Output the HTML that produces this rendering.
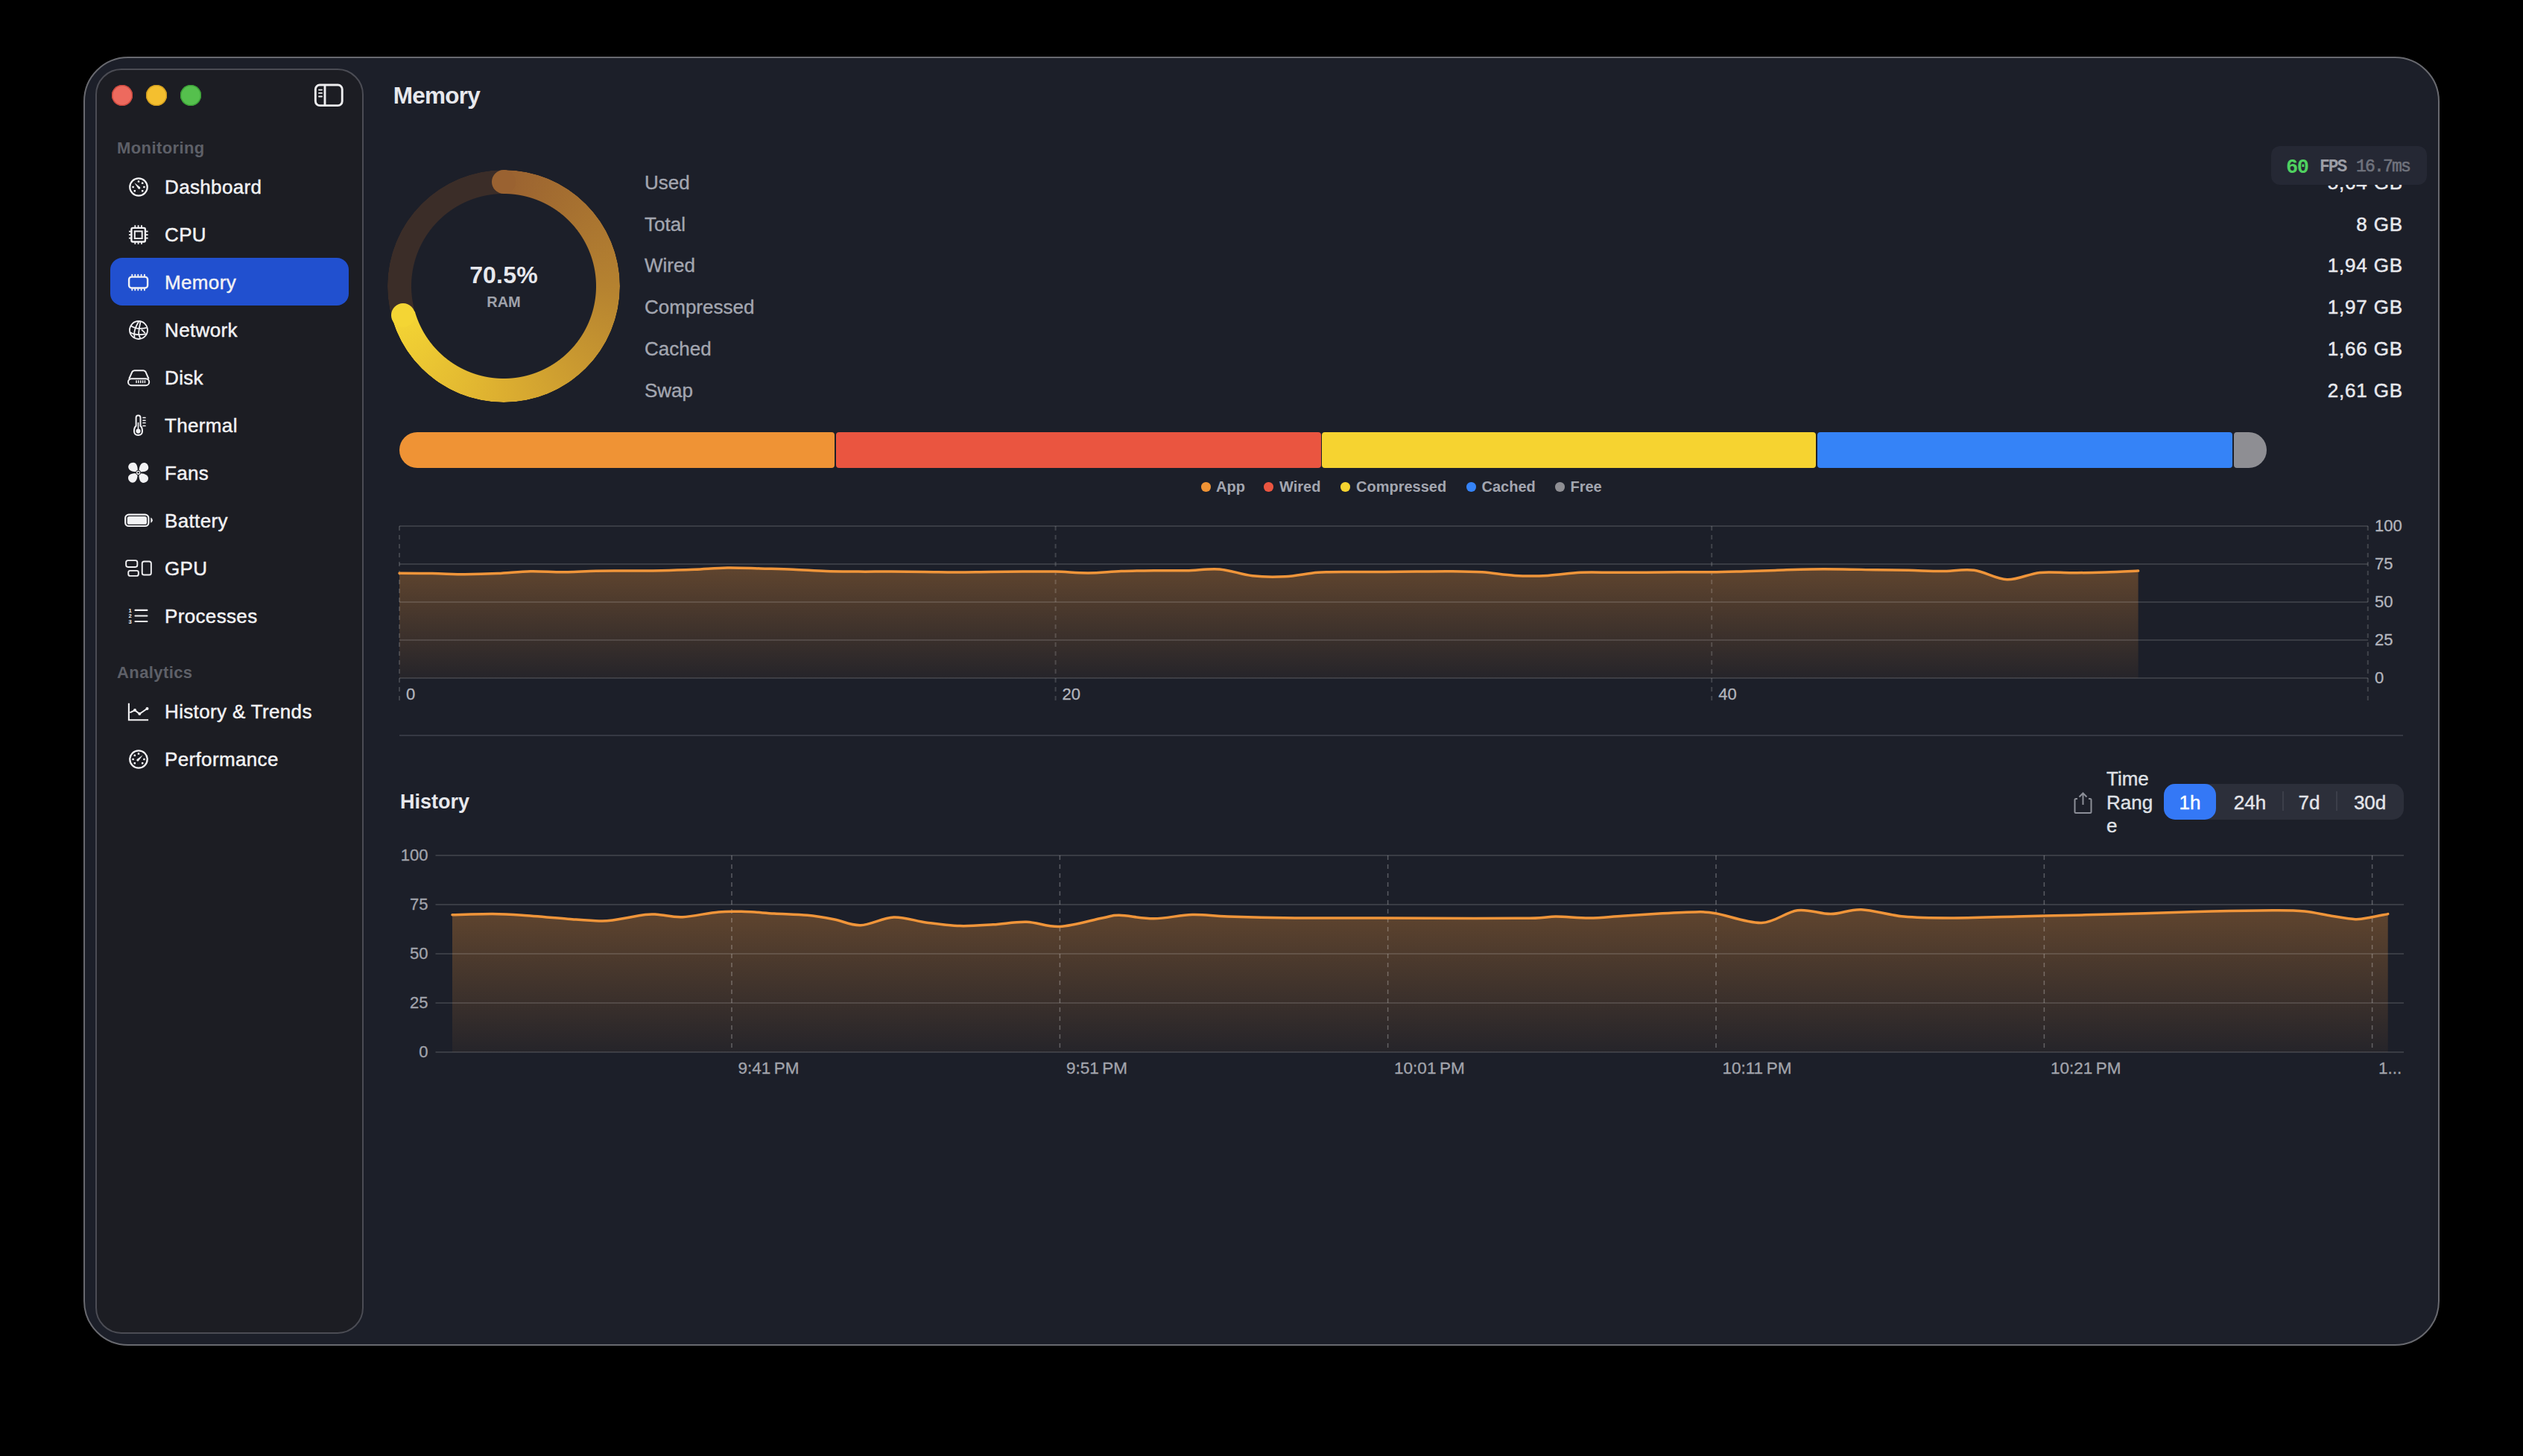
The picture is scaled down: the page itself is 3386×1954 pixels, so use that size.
<!DOCTYPE html><html><head><meta charset="utf-8"><title>Memory</title><style>html,body{margin:0;padding:0;background:#000;width:3386px;height:1954px;overflow:hidden;}*{-webkit-font-smoothing:antialiased;}</style></head><body>
<div style="position:absolute;left:112px;top:76px;width:3162px;height:1730px;box-sizing:border-box;border:2px solid #68696f;border-radius:60px;background:#1c1f29;"></div>
<div style="position:absolute;left:128px;top:92px;width:360px;height:1698px;box-sizing:border-box;border:2px solid #4b4c54;border-radius:35px;background:#1c1d23;"></div>
<div style="position:absolute;left:150px;top:114px;width:28px;height:28px;border-radius:50%;background:#ed6a5e;box-shadow:inset 0 0 0 1.3px #c9463c;"></div>
<div style="position:absolute;left:196px;top:114px;width:28px;height:28px;border-radius:50%;background:#f4bf2f;box-shadow:inset 0 0 0 1.3px #cf9b1e;"></div>
<div style="position:absolute;left:242px;top:114px;width:28px;height:28px;border-radius:50%;background:#55c04d;box-shadow:inset 0 0 0 1.3px #3a9e36;"></div>
<svg style="position:absolute;left:400px;top:100px" width="80" height="60" viewBox="400 100 80 60"><rect x="423.35" y="114.05" width="35.9" height="27.6" rx="5.8" fill="none" stroke="#eeeef0" stroke-width="2.9"/><line x1="436" y1="114" x2="436" y2="141.7" stroke="#eeeef0" stroke-width="2.9"/><path d="M428 120.6 H432 M428 124.9 H432 M428 129.5 H432" stroke="#eeeef0" stroke-width="1.8" stroke-linecap="round"/></svg>
<div style="position:absolute;left:157.0px;top:188.4px;font-size:22px;line-height:22px;color:#5e6068;font-weight:700;font-family:'Liberation Sans', sans-serif;white-space:nowrap;letter-spacing:0.4px;">Monitoring</div>
<div style="position:absolute;left:157.0px;top:892.4px;font-size:22px;line-height:22px;color:#5e6068;font-weight:700;font-family:'Liberation Sans', sans-serif;white-space:nowrap;letter-spacing:0.4px;">Analytics</div>
<div style="position:absolute;left:148px;top:346px;width:320px;height:64px;border-radius:16px;background:#2150cf;"></div>
<svg style="position:absolute;left:150px;top:220px" width="80" height="840" viewBox="150 220 80 840"><circle cx="186" cy="251" r="11.7" fill="none" stroke="#f2f2f4" stroke-width="2.3"/><rect x="184.75" y="242.35" width="2.5" height="2.5" rx="0.4" fill="#f2f2f4"/><rect x="189.95" y="244.55" width="2.5" height="2.5" rx="0.4" fill="#f2f2f4"/><rect x="192.15" y="249.75" width="2.5" height="2.5" rx="0.4" fill="#f2f2f4"/><rect x="189.95" y="254.95" width="2.5" height="2.5" rx="0.4" fill="#f2f2f4"/><rect x="179.55" y="254.95" width="2.5" height="2.5" rx="0.4" fill="#f2f2f4"/><rect x="177.35" y="249.75" width="2.5" height="2.5" rx="0.4" fill="#f2f2f4"/><path d="M180.3 245.3 L187.9 250.9 Q188.9 252.3 187.7 253.4 Q186.4 254.3 185.4 253.1 Z" fill="#f2f2f4"/><rect x="176.4" y="305.9" width="18.5" height="18.6" rx="2" fill="none" stroke="#f2f2f4" stroke-width="2.4"/><rect x="180.8" y="310.4" width="9.9" height="9.6" fill="none" stroke="#f2f2f4" stroke-width="2"/><rect x="180.4" y="302.2" width="1.8" height="3" fill="#f2f2f4"/><rect x="180.4" y="325" width="1.8" height="2.8" fill="#f2f2f4"/><rect x="184.7" y="302.2" width="1.8" height="3" fill="#f2f2f4"/><rect x="184.7" y="325" width="1.8" height="2.8" fill="#f2f2f4"/><rect x="189.1" y="302.2" width="1.8" height="3" fill="#f2f2f4"/><rect x="189.1" y="325" width="1.8" height="2.8" fill="#f2f2f4"/><rect y="309.70000000000005" x="173" height="1.8" width="3" fill="#f2f2f4"/><rect y="309.70000000000005" x="195.6" height="1.8" width="3" fill="#f2f2f4"/><rect y="314.20000000000005" x="173" height="1.8" width="3" fill="#f2f2f4"/><rect y="314.20000000000005" x="195.6" height="1.8" width="3" fill="#f2f2f4"/><rect y="318.70000000000005" x="173" height="1.8" width="3" fill="#f2f2f4"/><rect y="318.70000000000005" x="195.6" height="1.8" width="3" fill="#f2f2f4"/><rect x="173.1" y="371.6" width="25" height="14.9" rx="3.5" fill="none" stroke="#f2f2f4" stroke-width="2.4"/><rect x="176.4" y="367.9" width="1.8" height="3" fill="#f2f2f4"/><rect x="176.4" y="387.2" width="1.8" height="3" fill="#f2f2f4"/><rect x="180.4" y="367.9" width="1.8" height="3" fill="#f2f2f4"/><rect x="180.4" y="387.2" width="1.8" height="3" fill="#f2f2f4"/><rect x="184.4" y="367.9" width="1.8" height="3" fill="#f2f2f4"/><rect x="184.4" y="387.2" width="1.8" height="3" fill="#f2f2f4"/><rect x="188.7" y="367.9" width="1.8" height="3" fill="#f2f2f4"/><rect x="188.7" y="387.2" width="1.8" height="3" fill="#f2f2f4"/><rect x="193.0" y="367.9" width="1.8" height="3" fill="#f2f2f4"/><rect x="193.0" y="387.2" width="1.8" height="3" fill="#f2f2f4"/><g transform="translate(173 430)" fill="none" stroke="#f2f2f4" stroke-width="1.8"><circle cx="13" cy="13" r="12"/><path d="M13.1 1.7 Q8.3 9.2 7.3 16.1 Q7 20 7.6 23"/><path d="M15.5 2 Q13.8 9.2 13.1 16.8 Q13.4 21 15.2 24"/><path d="M2.5 7.2 Q6 9.6 11 10.6 Q18 11.6 23.7 9.9"/><path d="M1.8 16.1 Q4.5 17.8 7.6 18.5 Q14.5 20 23 18.2"/><path d="M16.9 12.3 L21.7 16.8"/></g><path d="M173.2 508.5 L177.2 499.3 Q178.2 497.2 180.4 497.2 L192.4 497.2 Q194.6 497.2 195.6 499.3 L199.6 508.5" fill="none" stroke="#f2f2f4" stroke-width="2"/><rect x="172" y="508.2" width="28.2" height="9" rx="4.5" fill="none" stroke="#f2f2f4" stroke-width="2"/><rect x="182.30" y="510.4" width="1.5" height="3.7" fill="#f2f2f4"/><rect x="185.15" y="510.4" width="1.5" height="3.7" fill="#f2f2f4"/><rect x="188.00" y="510.4" width="1.5" height="3.7" fill="#f2f2f4"/><rect x="190.85" y="510.4" width="1.5" height="3.7" fill="#f2f2f4"/><rect x="193.70" y="510.4" width="1.5" height="3.7" fill="#f2f2f4"/><path d="M182.6 571.6 L182.6 560.6 Q182.6 557.6 185.55 557.6 Q188.5 557.6 188.5 560.6 L188.5 571.6 Q191 573.6 191 578.6 Q191 584.1 185.5 584.1 Q180 584.1 180 578.6 Q180 573.6 182.6 571.6 Z" fill="none" stroke="#f2f2f4" stroke-width="2"/><circle cx="185.5" cy="578.6" r="3.1" fill="#f2f2f4"/><rect x="184.7" y="566.9" width="1.6" height="11" fill="#f2f2f4"/><rect x="191.3" y="559.65" width="4.4" height="1.5" rx="0.5" fill="#f2f2f4"/><rect x="191.3" y="563.45" width="4.4" height="1.5" rx="0.5" fill="#f2f2f4"/><rect x="191.3" y="566.85" width="4.4" height="1.5" rx="0.5" fill="#f2f2f4"/><rect x="191.3" y="570.65" width="4.4" height="1.5" rx="0.5" fill="#f2f2f4"/><g transform="translate(185.6 634.3)"><path transform="rotate(0)" d="M-0.9 -3.2 C-0.9 -9 -2.6 -13.6 -6.8 -13.6 C-10.8 -13.6 -13.4 -10.8 -13.4 -7.8 C-13.4 -3.6 -9 -1.2 -3.2 -1 Z" fill="#f2f2f4"/><path transform="rotate(90)" d="M-0.9 -3.2 C-0.9 -9 -2.6 -13.6 -6.8 -13.6 C-10.8 -13.6 -13.4 -10.8 -13.4 -7.8 C-13.4 -3.6 -9 -1.2 -3.2 -1 Z" fill="#f2f2f4"/><path transform="rotate(180)" d="M-0.9 -3.2 C-0.9 -9 -2.6 -13.6 -6.8 -13.6 C-10.8 -13.6 -13.4 -10.8 -13.4 -7.8 C-13.4 -3.6 -9 -1.2 -3.2 -1 Z" fill="#f2f2f4"/><path transform="rotate(270)" d="M-0.9 -3.2 C-0.9 -9 -2.6 -13.6 -6.8 -13.6 C-10.8 -13.6 -13.4 -10.8 -13.4 -7.8 C-13.4 -3.6 -9 -1.2 -3.2 -1 Z" fill="#f2f2f4"/><circle r="3.4" fill="#1c1d23"/><circle r="2.6" fill="#f2f2f4"/><circle r="1.2" fill="#1c1d23"/></g><rect x="168.2" y="690.7" width="31.2" height="15.3" rx="4.6" fill="none" stroke="#f2f2f4" stroke-width="2.2"/><rect x="170.8" y="693" width="26.2" height="10.8" rx="2.6" fill="#f2f2f4"/><path d="M202.3 694.6 Q204.8 696 204.8 698.2 Q204.8 700.4 202.3 701.8 Z" fill="#f2f2f4"/><g fill="none" stroke="#f2f2f4" stroke-width="1.9"><rect x="169.15" y="752.15" width="15.2" height="8.8" rx="2.6"/><rect x="172.25" y="765.85" width="13.6" height="7" rx="2.4"/><rect x="190.75" y="753.45" width="12.1" height="18.1" rx="2.6"/></g><path d="M181.5 818.9 H197.4 M181.5 826.5 H197.4 M181.5 834 H197.4" stroke="#f2f2f4" stroke-width="2.2" stroke-linecap="round"/><g font-family="Liberation Sans" font-weight="700" font-size="7.6" fill="#f2f2f4"><text x="172.6" y="821.6">1</text><text x="172.6" y="829.2">2</text><text x="172.6" y="836.8">3</text></g><path d="M172.9 943.7 V966.3 H199.1" fill="none" stroke="#f2f2f4" stroke-width="2.1"/><path d="M174.4 956.4 L181 953.1 L187.3 958.1 L197.5 951" fill="none" stroke="#f2f2f4" stroke-width="2"/><circle cx="181" cy="953.1" r="2" fill="#f2f2f4"/><circle cx="187.3" cy="958.1" r="2" fill="#f2f2f4"/><circle cx="197.5" cy="951" r="2" fill="#f2f2f4"/><circle cx="186" cy="1019" r="11.7" fill="none" stroke="#f2f2f4" stroke-width="2.3"/><rect x="184.75" y="1010.35" width="2.5" height="2.5" rx="0.4" fill="#f2f2f4"/><rect x="179.55" y="1012.55" width="2.5" height="2.5" rx="0.4" fill="#f2f2f4"/><rect x="177.35" y="1017.75" width="2.5" height="2.5" rx="0.4" fill="#f2f2f4"/><rect x="179.55" y="1022.95" width="2.5" height="2.5" rx="0.4" fill="#f2f2f4"/><rect x="189.95" y="1022.95" width="2.5" height="2.5" rx="0.4" fill="#f2f2f4"/><rect x="192.15" y="1017.75" width="2.5" height="2.5" rx="0.4" fill="#f2f2f4"/><path d="M191.7 1013.3 L186.1 1021.1 Q185.1 1022.1 183.9 1021.3 Q182.9 1020.3 183.7 1019.1 Z" fill="#f2f2f4"/></svg>
<div style="position:absolute;left:221.0px;top:238.0px;font-size:26px;line-height:26px;color:#f2f2f4;font-weight:400;font-family:'Liberation Sans', sans-serif;white-space:nowrap;-webkit-text-stroke:0.45px currentColor;letter-spacing:0.35px;">Dashboard</div>
<div style="position:absolute;left:221.0px;top:302.0px;font-size:26px;line-height:26px;color:#f2f2f4;font-weight:400;font-family:'Liberation Sans', sans-serif;white-space:nowrap;-webkit-text-stroke:0.45px currentColor;letter-spacing:0.35px;">CPU</div>
<div style="position:absolute;left:221.0px;top:366.0px;font-size:26px;line-height:26px;color:#f2f2f4;font-weight:400;font-family:'Liberation Sans', sans-serif;white-space:nowrap;-webkit-text-stroke:0.45px currentColor;letter-spacing:0.35px;">Memory</div>
<div style="position:absolute;left:221.0px;top:430.0px;font-size:26px;line-height:26px;color:#f2f2f4;font-weight:400;font-family:'Liberation Sans', sans-serif;white-space:nowrap;-webkit-text-stroke:0.45px currentColor;letter-spacing:0.35px;">Network</div>
<div style="position:absolute;left:221.0px;top:494.0px;font-size:26px;line-height:26px;color:#f2f2f4;font-weight:400;font-family:'Liberation Sans', sans-serif;white-space:nowrap;-webkit-text-stroke:0.45px currentColor;letter-spacing:0.35px;">Disk</div>
<div style="position:absolute;left:221.0px;top:558.0px;font-size:26px;line-height:26px;color:#f2f2f4;font-weight:400;font-family:'Liberation Sans', sans-serif;white-space:nowrap;-webkit-text-stroke:0.45px currentColor;letter-spacing:0.35px;">Thermal</div>
<div style="position:absolute;left:221.0px;top:622.0px;font-size:26px;line-height:26px;color:#f2f2f4;font-weight:400;font-family:'Liberation Sans', sans-serif;white-space:nowrap;-webkit-text-stroke:0.45px currentColor;letter-spacing:0.35px;">Fans</div>
<div style="position:absolute;left:221.0px;top:686.0px;font-size:26px;line-height:26px;color:#f2f2f4;font-weight:400;font-family:'Liberation Sans', sans-serif;white-space:nowrap;-webkit-text-stroke:0.45px currentColor;letter-spacing:0.35px;">Battery</div>
<div style="position:absolute;left:221.0px;top:750.0px;font-size:26px;line-height:26px;color:#f2f2f4;font-weight:400;font-family:'Liberation Sans', sans-serif;white-space:nowrap;-webkit-text-stroke:0.45px currentColor;letter-spacing:0.35px;">GPU</div>
<div style="position:absolute;left:221.0px;top:814.0px;font-size:26px;line-height:26px;color:#f2f2f4;font-weight:400;font-family:'Liberation Sans', sans-serif;white-space:nowrap;-webkit-text-stroke:0.45px currentColor;letter-spacing:0.35px;">Processes</div>
<div style="position:absolute;left:221.0px;top:942.0px;font-size:26px;line-height:26px;color:#f2f2f4;font-weight:400;font-family:'Liberation Sans', sans-serif;white-space:nowrap;-webkit-text-stroke:0.45px currentColor;letter-spacing:0.35px;">History &amp; Trends</div>
<div style="position:absolute;left:221.0px;top:1006.0px;font-size:26px;line-height:26px;color:#f2f2f4;font-weight:400;font-family:'Liberation Sans', sans-serif;white-space:nowrap;-webkit-text-stroke:0.45px currentColor;letter-spacing:0.35px;">Performance</div>
<div style="position:absolute;left:527.8px;top:112.6px;font-size:31.5px;line-height:31.5px;color:#e7e8ed;font-weight:700;font-family:'Liberation Sans', sans-serif;white-space:nowrap;letter-spacing:-0.75px;">Memory</div>
<div style="position:absolute;left:520px;top:228px;width:312px;height:312px;border-radius:50%;background:conic-gradient(from 0deg, #9a6231 0deg, #b58230 90deg, #dcae30 180deg, #f4d534 254deg, #3b2d28 254deg, #3b2d28 360deg);-webkit-mask:radial-gradient(circle, transparent 123.5px, #000 124.5px, #000 155.5px, transparent 156.5px);"></div>
<div style="position:absolute;left:660.0px;top:228.0px;width:32px;height:32px;border-radius:50%;background:#9a6231;"></div>
<div style="position:absolute;left:525.4px;top:406.6px;width:32px;height:32px;border-radius:50%;background:#f4d534;"></div>
<div style="position:absolute;left:176.0px;width:1000px;text-align:center;top:352.9px;font-size:32px;line-height:32px;color:#e7e8ed;font-weight:700;font-family:'Liberation Sans', sans-serif;white-space:nowrap;letter-spacing:0.2px;">70.5%</div>
<div style="position:absolute;left:176.0px;width:1000px;text-align:center;top:395.1px;font-size:20px;line-height:20px;color:#9fa2ab;font-weight:700;font-family:'Liberation Sans', sans-serif;white-space:nowrap;">RAM</div>
<div style="position:absolute;left:865.0px;top:232.0px;font-size:26px;line-height:26px;color:#a3a6b0;font-weight:400;font-family:'Liberation Sans', sans-serif;white-space:nowrap;-webkit-text-stroke:0.35px currentColor;">Used</div>
<div style="position:absolute;right:161.2px;top:232.0px;font-size:26px;line-height:26px;color:#e7e8ed;font-weight:400;font-family:'Liberation Sans', sans-serif;white-space:nowrap;-webkit-text-stroke:0.5px currentColor;letter-spacing:0.8px;">5,64 GB</div>
<div style="position:absolute;left:865.0px;top:287.7px;font-size:26px;line-height:26px;color:#a3a6b0;font-weight:400;font-family:'Liberation Sans', sans-serif;white-space:nowrap;-webkit-text-stroke:0.35px currentColor;">Total</div>
<div style="position:absolute;right:161.2px;top:287.7px;font-size:26px;line-height:26px;color:#e7e8ed;font-weight:400;font-family:'Liberation Sans', sans-serif;white-space:nowrap;-webkit-text-stroke:0.5px currentColor;letter-spacing:0.8px;">8 GB</div>
<div style="position:absolute;left:865.0px;top:343.4px;font-size:26px;line-height:26px;color:#a3a6b0;font-weight:400;font-family:'Liberation Sans', sans-serif;white-space:nowrap;-webkit-text-stroke:0.35px currentColor;">Wired</div>
<div style="position:absolute;right:161.2px;top:343.4px;font-size:26px;line-height:26px;color:#e7e8ed;font-weight:400;font-family:'Liberation Sans', sans-serif;white-space:nowrap;-webkit-text-stroke:0.5px currentColor;letter-spacing:0.8px;">1,94 GB</div>
<div style="position:absolute;left:865.0px;top:399.1px;font-size:26px;line-height:26px;color:#a3a6b0;font-weight:400;font-family:'Liberation Sans', sans-serif;white-space:nowrap;-webkit-text-stroke:0.35px currentColor;">Compressed</div>
<div style="position:absolute;right:161.2px;top:399.1px;font-size:26px;line-height:26px;color:#e7e8ed;font-weight:400;font-family:'Liberation Sans', sans-serif;white-space:nowrap;-webkit-text-stroke:0.5px currentColor;letter-spacing:0.8px;">1,97 GB</div>
<div style="position:absolute;left:865.0px;top:454.8px;font-size:26px;line-height:26px;color:#a3a6b0;font-weight:400;font-family:'Liberation Sans', sans-serif;white-space:nowrap;-webkit-text-stroke:0.35px currentColor;">Cached</div>
<div style="position:absolute;right:161.2px;top:454.8px;font-size:26px;line-height:26px;color:#e7e8ed;font-weight:400;font-family:'Liberation Sans', sans-serif;white-space:nowrap;-webkit-text-stroke:0.5px currentColor;letter-spacing:0.8px;">1,66 GB</div>
<div style="position:absolute;left:865.0px;top:510.5px;font-size:26px;line-height:26px;color:#a3a6b0;font-weight:400;font-family:'Liberation Sans', sans-serif;white-space:nowrap;-webkit-text-stroke:0.35px currentColor;">Swap</div>
<div style="position:absolute;right:161.2px;top:510.5px;font-size:26px;line-height:26px;color:#e7e8ed;font-weight:400;font-family:'Liberation Sans', sans-serif;white-space:nowrap;-webkit-text-stroke:0.5px currentColor;letter-spacing:0.8px;">2,61 GB</div>
<div style="position:absolute;left:3048px;top:196px;width:209px;height:52px;border-radius:12px;background:#252834;"></div>
<div style="position:absolute;left:3068.0px;top:211.6px;font-size:27px;line-height:27px;color:#4fd160;font-weight:700;font-family:'Liberation Mono', monospace;white-space:nowrap;letter-spacing:-1.5px;">60</div>
<div style="position:absolute;left:3113.0px;top:212.5px;font-size:23px;line-height:23px;color:#9c9ea6;font-weight:700;font-family:'Liberation Mono', monospace;white-space:nowrap;letter-spacing:-2px;">FPS</div>
<div style="position:absolute;left:3162.0px;top:212.5px;font-size:23px;line-height:23px;color:#6f727c;font-weight:400;font-family:'Liberation Mono', monospace;white-space:nowrap;letter-spacing:-1.8px;-webkit-text-stroke:0.6px currentColor;">16.7ms</div>
<div style="position:absolute;left:536px;top:580px;width:584px;height:48px;border-radius:24px 4px 4px 24px;background:#ef9335;"></div>
<div style="position:absolute;left:1121.5px;top:580px;width:651.0px;height:48px;border-radius:4px;background:#ea5540;"></div>
<div style="position:absolute;left:1774px;top:580px;width:663px;height:48px;border-radius:4px;background:#f6d330;"></div>
<div style="position:absolute;left:2439px;top:580px;width:557px;height:48px;border-radius:4px;background:#3583f7;"></div>
<div style="position:absolute;left:2998px;top:580px;width:44px;height:48px;border-radius:4px 24px 24px 4px;background:#8e8e93;"></div>
<div style="position:absolute;left:1612px;top:647px;width:12.5px;height:12.5px;border-radius:50%;background:#ef9335;"></div>
<div style="position:absolute;left:1632.0px;top:643.1px;font-size:20px;line-height:20px;color:#a3a6b0;font-weight:700;font-family:'Liberation Sans', sans-serif;white-space:nowrap;">App</div>
<div style="position:absolute;left:1696px;top:647px;width:12.5px;height:12.5px;border-radius:50%;background:#ea5540;"></div>
<div style="position:absolute;left:1717.0px;top:643.1px;font-size:20px;line-height:20px;color:#a3a6b0;font-weight:700;font-family:'Liberation Sans', sans-serif;white-space:nowrap;">Wired</div>
<div style="position:absolute;left:1799px;top:647px;width:12.5px;height:12.5px;border-radius:50%;background:#f6d330;"></div>
<div style="position:absolute;left:1820.0px;top:643.1px;font-size:20px;line-height:20px;color:#a3a6b0;font-weight:700;font-family:'Liberation Sans', sans-serif;white-space:nowrap;">Compressed</div>
<div style="position:absolute;left:1968px;top:647px;width:12.5px;height:12.5px;border-radius:50%;background:#3583f7;"></div>
<div style="position:absolute;left:1988.5px;top:643.1px;font-size:20px;line-height:20px;color:#a3a6b0;font-weight:700;font-family:'Liberation Sans', sans-serif;white-space:nowrap;">Cached</div>
<div style="position:absolute;left:2087px;top:647px;width:12.5px;height:12.5px;border-radius:50%;background:#8e8e93;"></div>
<div style="position:absolute;left:2107.5px;top:643.1px;font-size:20px;line-height:20px;color:#a3a6b0;font-weight:700;font-family:'Liberation Sans', sans-serif;white-space:nowrap;">Free</div>
<svg style="position:absolute;left:0;top:0" width="3386" height="1954" viewBox="0 0 3386 1954">
<defs><linearGradient id="ga" x1="0" y1="0" x2="0" y2="1"><stop offset="0" stop-color="#f0953a" stop-opacity="0.32"/><stop offset="1" stop-color="#f0953a" stop-opacity="0.045"/></linearGradient></defs>
<path d="M536.0 769.3 C543.3 769.3 565.4 769.4 580.0 769.6 C594.7 769.8 609.4 770.7 624.1 770.7 C638.7 770.7 653.4 770.3 668.1 769.6 C682.8 768.9 697.4 767.0 712.1 766.7 C726.8 766.4 741.5 767.9 756.1 767.8 C770.8 767.7 785.5 766.5 800.2 766.2 C814.9 765.9 829.5 766.1 844.2 766.0 C858.9 765.9 873.6 766.0 888.2 765.7 C902.9 765.4 917.6 764.9 932.3 764.3 C946.9 763.7 961.6 762.2 976.3 762.0 C991.0 761.8 1005.7 762.6 1020.3 763.0 C1035.0 763.4 1049.7 763.6 1064.4 764.2 C1079.0 764.8 1093.7 766.1 1108.4 766.6 C1123.1 767.1 1137.7 767.0 1152.4 767.1 C1167.1 767.2 1181.8 767.0 1196.5 767.1 C1211.1 767.2 1225.8 767.4 1240.5 767.5 C1255.2 767.6 1269.8 768.0 1284.5 768.0 C1299.2 768.0 1313.9 767.6 1328.5 767.5 C1343.2 767.4 1357.9 767.2 1372.6 767.1 C1387.2 767.0 1401.9 766.8 1416.6 767.1 C1431.3 767.4 1446.0 769.0 1460.6 768.9 C1475.3 768.8 1490.0 767.1 1504.7 766.6 C1519.3 766.1 1534.0 765.9 1548.7 765.7 C1563.4 765.6 1578.0 766.0 1592.7 765.7 C1607.4 765.4 1622.1 762.7 1636.8 763.9 C1651.4 765.1 1666.1 771.2 1680.8 772.8 C1695.5 774.4 1710.1 774.5 1724.8 773.7 C1739.5 773.0 1754.2 769.3 1768.8 768.3 C1783.5 767.3 1798.2 767.6 1812.9 767.5 C1827.5 767.4 1842.2 767.6 1856.9 767.5 C1871.6 767.4 1886.3 767.2 1900.9 767.1 C1915.6 767.0 1930.3 766.6 1945.0 766.7 C1959.6 766.8 1974.3 766.8 1989.0 767.8 C2003.7 768.8 2018.3 771.6 2033.0 772.4 C2047.7 773.2 2062.4 773.1 2077.1 772.4 C2091.7 771.7 2106.4 769.0 2121.1 768.3 C2135.8 767.6 2150.4 768.3 2165.1 768.3 C2179.8 768.3 2194.5 768.4 2209.1 768.3 C2223.8 768.2 2238.5 767.9 2253.2 767.8 C2267.8 767.7 2282.5 768.0 2297.2 767.8 C2311.9 767.6 2326.6 767.1 2341.2 766.7 C2355.9 766.3 2370.6 765.8 2385.3 765.3 C2399.9 764.8 2414.6 764.1 2429.3 763.9 C2444.0 763.7 2458.6 763.8 2473.3 763.9 C2488.0 764.0 2502.7 764.6 2517.4 764.8 C2532.0 765.0 2546.7 765.0 2561.4 765.3 C2576.1 765.6 2590.7 766.6 2605.4 766.6 C2620.1 766.6 2634.8 763.4 2649.4 765.3 C2664.1 767.2 2678.8 777.3 2693.5 777.8 C2708.1 778.3 2722.8 769.9 2737.5 768.4 C2752.2 766.9 2766.9 768.9 2781.5 768.8 C2796.2 768.7 2810.9 768.3 2825.6 767.9 C2840.2 767.5 2862.3 766.4 2869.6 766.1 L2869.6 910 L536.0 910 Z" fill="url(#ga)"/>
<line x1="536" y1="706.0" x2="3178" y2="706.0" stroke="rgba(255,255,255,0.13)" stroke-width="2"/>
<line x1="536" y1="757.0" x2="3178" y2="757.0" stroke="rgba(255,255,255,0.13)" stroke-width="2"/>
<line x1="536" y1="808.0" x2="3178" y2="808.0" stroke="rgba(255,255,255,0.13)" stroke-width="2"/>
<line x1="536" y1="859.0" x2="3178" y2="859.0" stroke="rgba(255,255,255,0.13)" stroke-width="2"/>
<line x1="536" y1="910.0" x2="3178" y2="910.0" stroke="rgba(255,255,255,0.13)" stroke-width="2"/>
<line x1="536.0" y1="706" x2="536.0" y2="940" stroke="rgba(255,255,255,0.16)" stroke-width="2" stroke-dasharray="6 6"/>
<line x1="1416.6" y1="706" x2="1416.6" y2="940" stroke="rgba(255,255,255,0.16)" stroke-width="2" stroke-dasharray="6 6"/>
<line x1="2297.2" y1="706" x2="2297.2" y2="940" stroke="rgba(255,255,255,0.16)" stroke-width="2" stroke-dasharray="6 6"/>
<line x1="3177.8" y1="706" x2="3177.8" y2="940" stroke="rgba(255,255,255,0.16)" stroke-width="2" stroke-dasharray="6 6"/>
<path d="M536.0 769.3 C543.3 769.3 565.4 769.4 580.0 769.6 C594.7 769.8 609.4 770.7 624.1 770.7 C638.7 770.7 653.4 770.3 668.1 769.6 C682.8 768.9 697.4 767.0 712.1 766.7 C726.8 766.4 741.5 767.9 756.1 767.8 C770.8 767.7 785.5 766.5 800.2 766.2 C814.9 765.9 829.5 766.1 844.2 766.0 C858.9 765.9 873.6 766.0 888.2 765.7 C902.9 765.4 917.6 764.9 932.3 764.3 C946.9 763.7 961.6 762.2 976.3 762.0 C991.0 761.8 1005.7 762.6 1020.3 763.0 C1035.0 763.4 1049.7 763.6 1064.4 764.2 C1079.0 764.8 1093.7 766.1 1108.4 766.6 C1123.1 767.1 1137.7 767.0 1152.4 767.1 C1167.1 767.2 1181.8 767.0 1196.5 767.1 C1211.1 767.2 1225.8 767.4 1240.5 767.5 C1255.2 767.6 1269.8 768.0 1284.5 768.0 C1299.2 768.0 1313.9 767.6 1328.5 767.5 C1343.2 767.4 1357.9 767.2 1372.6 767.1 C1387.2 767.0 1401.9 766.8 1416.6 767.1 C1431.3 767.4 1446.0 769.0 1460.6 768.9 C1475.3 768.8 1490.0 767.1 1504.7 766.6 C1519.3 766.1 1534.0 765.9 1548.7 765.7 C1563.4 765.6 1578.0 766.0 1592.7 765.7 C1607.4 765.4 1622.1 762.7 1636.8 763.9 C1651.4 765.1 1666.1 771.2 1680.8 772.8 C1695.5 774.4 1710.1 774.5 1724.8 773.7 C1739.5 773.0 1754.2 769.3 1768.8 768.3 C1783.5 767.3 1798.2 767.6 1812.9 767.5 C1827.5 767.4 1842.2 767.6 1856.9 767.5 C1871.6 767.4 1886.3 767.2 1900.9 767.1 C1915.6 767.0 1930.3 766.6 1945.0 766.7 C1959.6 766.8 1974.3 766.8 1989.0 767.8 C2003.7 768.8 2018.3 771.6 2033.0 772.4 C2047.7 773.2 2062.4 773.1 2077.1 772.4 C2091.7 771.7 2106.4 769.0 2121.1 768.3 C2135.8 767.6 2150.4 768.3 2165.1 768.3 C2179.8 768.3 2194.5 768.4 2209.1 768.3 C2223.8 768.2 2238.5 767.9 2253.2 767.8 C2267.8 767.7 2282.5 768.0 2297.2 767.8 C2311.9 767.6 2326.6 767.1 2341.2 766.7 C2355.9 766.3 2370.6 765.8 2385.3 765.3 C2399.9 764.8 2414.6 764.1 2429.3 763.9 C2444.0 763.7 2458.6 763.8 2473.3 763.9 C2488.0 764.0 2502.7 764.6 2517.4 764.8 C2532.0 765.0 2546.7 765.0 2561.4 765.3 C2576.1 765.6 2590.7 766.6 2605.4 766.6 C2620.1 766.6 2634.8 763.4 2649.4 765.3 C2664.1 767.2 2678.8 777.3 2693.5 777.8 C2708.1 778.3 2722.8 769.9 2737.5 768.4 C2752.2 766.9 2766.9 768.9 2781.5 768.8 C2796.2 768.7 2810.9 768.3 2825.6 767.9 C2840.2 767.5 2862.3 766.4 2869.6 766.1" fill="none" stroke="#f0953a" stroke-width="3.5" stroke-linecap="round" stroke-linejoin="round"/>
<line x1="536" y1="987" x2="3225" y2="987" stroke="#353843" stroke-width="2"/>
<path d="M607.0 1227.8 C616.0 1227.6 645.4 1226.5 661.0 1226.6 C676.6 1226.7 682.8 1227.1 700.6 1228.3 C718.4 1229.5 750.8 1232.4 768.0 1233.7 C785.2 1235.0 795.0 1235.8 804.0 1236.0 C813.0 1236.2 811.7 1236.4 822.0 1235.0 C832.3 1233.6 855.7 1228.8 866.0 1227.5 C876.3 1226.2 875.7 1227.0 884.0 1227.5 C892.3 1228.0 902.6 1231.3 916.0 1230.7 C929.4 1230.1 950.5 1225.1 964.5 1223.9 C978.5 1222.7 987.6 1223.2 1000.0 1223.5 C1012.4 1223.8 1025.1 1225.2 1039.0 1226.0 C1052.9 1226.8 1070.2 1227.0 1083.5 1228.3 C1096.8 1229.6 1107.1 1231.5 1119.0 1233.7 C1130.9 1235.9 1141.6 1242.2 1155.0 1241.7 C1168.4 1241.2 1184.6 1231.6 1199.4 1231.0 C1214.2 1230.4 1229.1 1236.3 1244.0 1238.2 C1258.9 1240.1 1273.8 1242.2 1288.6 1242.6 C1303.4 1243.0 1318.1 1241.7 1333.0 1240.8 C1347.9 1239.9 1362.9 1236.8 1377.8 1237.3 C1392.7 1237.8 1405.5 1244.4 1422.4 1243.5 C1439.3 1242.6 1466.1 1234.5 1479.4 1232.0 C1492.7 1229.5 1490.5 1228.2 1502.0 1228.3 C1513.5 1228.4 1532.2 1232.9 1548.5 1232.8 C1564.8 1232.7 1583.4 1228.0 1600.0 1227.5 C1616.6 1227.0 1625.1 1229.2 1648.0 1230.0 C1670.9 1230.8 1707.7 1231.7 1737.5 1232.0 C1767.3 1232.3 1796.4 1232.0 1826.7 1232.0 C1857.0 1232.0 1881.7 1232.2 1919.4 1232.3 C1957.1 1232.3 2024.6 1232.7 2052.7 1232.3 C2080.8 1231.9 2074.6 1230.0 2088.0 1230.0 C2101.4 1230.0 2118.1 1232.1 2133.0 1232.0 C2147.9 1231.9 2161.2 1230.2 2177.5 1229.2 C2193.8 1228.2 2214.7 1226.6 2231.0 1225.7 C2247.3 1224.8 2263.7 1223.9 2275.6 1223.9 C2287.5 1223.9 2287.7 1223.3 2302.4 1225.7 C2317.1 1228.1 2345.7 1239.2 2364.0 1238.5 C2382.3 1237.8 2396.9 1223.7 2412.4 1221.7 C2427.9 1219.7 2442.7 1226.8 2457.0 1226.6 C2471.3 1226.4 2481.7 1220.1 2498.0 1220.7 C2514.3 1221.3 2535.1 1228.2 2555.0 1230.1 C2574.9 1232.0 2592.2 1232.0 2617.5 1232.0 C2642.8 1232.0 2676.4 1230.7 2706.7 1230.0 C2737.0 1229.3 2770.7 1228.5 2799.4 1227.8 C2828.1 1227.1 2850.9 1226.5 2879.0 1225.7 C2907.1 1224.9 2938.2 1223.7 2968.0 1223.0 C2997.8 1222.3 3036.7 1221.7 3057.5 1221.7 C3078.3 1221.7 3081.1 1221.8 3093.0 1223.0 C3104.9 1224.2 3117.7 1227.4 3129.0 1229.2 C3140.3 1231.0 3152.2 1233.4 3161.0 1233.7 C3169.8 1234.0 3174.7 1232.2 3182.0 1231.0 C3189.3 1229.8 3200.9 1227.3 3204.7 1226.6 L3204.7 1412 L607.0 1412 Z" fill="url(#ga)"/>
<line x1="584.5" y1="1148.0" x2="3226" y2="1148.0" stroke="rgba(255,255,255,0.13)" stroke-width="2"/>
<line x1="584.5" y1="1214.0" x2="3226" y2="1214.0" stroke="rgba(255,255,255,0.13)" stroke-width="2"/>
<line x1="584.5" y1="1280.0" x2="3226" y2="1280.0" stroke="rgba(255,255,255,0.13)" stroke-width="2"/>
<line x1="584.5" y1="1346.0" x2="3226" y2="1346.0" stroke="rgba(255,255,255,0.13)" stroke-width="2"/>
<line x1="584.5" y1="1412.0" x2="3226" y2="1412.0" stroke="rgba(255,255,255,0.13)" stroke-width="2"/>
<line x1="982.0" y1="1148" x2="982.0" y2="1406" stroke="rgba(255,255,255,0.27)" stroke-width="1.5" stroke-dasharray="6 6"/>
<line x1="1422.4" y1="1148" x2="1422.4" y2="1406" stroke="rgba(255,255,255,0.27)" stroke-width="1.5" stroke-dasharray="6 6"/>
<line x1="1862.6" y1="1148" x2="1862.6" y2="1406" stroke="rgba(255,255,255,0.27)" stroke-width="1.5" stroke-dasharray="6 6"/>
<line x1="2303.0" y1="1148" x2="2303.0" y2="1406" stroke="rgba(255,255,255,0.27)" stroke-width="1.5" stroke-dasharray="6 6"/>
<line x1="2743.4" y1="1148" x2="2743.4" y2="1406" stroke="rgba(255,255,255,0.27)" stroke-width="1.5" stroke-dasharray="6 6"/>
<line x1="3183.6" y1="1148" x2="3183.6" y2="1406" stroke="rgba(255,255,255,0.27)" stroke-width="1.5" stroke-dasharray="6 6"/>
<path d="M607.0 1227.8 C616.0 1227.6 645.4 1226.5 661.0 1226.6 C676.6 1226.7 682.8 1227.1 700.6 1228.3 C718.4 1229.5 750.8 1232.4 768.0 1233.7 C785.2 1235.0 795.0 1235.8 804.0 1236.0 C813.0 1236.2 811.7 1236.4 822.0 1235.0 C832.3 1233.6 855.7 1228.8 866.0 1227.5 C876.3 1226.2 875.7 1227.0 884.0 1227.5 C892.3 1228.0 902.6 1231.3 916.0 1230.7 C929.4 1230.1 950.5 1225.1 964.5 1223.9 C978.5 1222.7 987.6 1223.2 1000.0 1223.5 C1012.4 1223.8 1025.1 1225.2 1039.0 1226.0 C1052.9 1226.8 1070.2 1227.0 1083.5 1228.3 C1096.8 1229.6 1107.1 1231.5 1119.0 1233.7 C1130.9 1235.9 1141.6 1242.2 1155.0 1241.7 C1168.4 1241.2 1184.6 1231.6 1199.4 1231.0 C1214.2 1230.4 1229.1 1236.3 1244.0 1238.2 C1258.9 1240.1 1273.8 1242.2 1288.6 1242.6 C1303.4 1243.0 1318.1 1241.7 1333.0 1240.8 C1347.9 1239.9 1362.9 1236.8 1377.8 1237.3 C1392.7 1237.8 1405.5 1244.4 1422.4 1243.5 C1439.3 1242.6 1466.1 1234.5 1479.4 1232.0 C1492.7 1229.5 1490.5 1228.2 1502.0 1228.3 C1513.5 1228.4 1532.2 1232.9 1548.5 1232.8 C1564.8 1232.7 1583.4 1228.0 1600.0 1227.5 C1616.6 1227.0 1625.1 1229.2 1648.0 1230.0 C1670.9 1230.8 1707.7 1231.7 1737.5 1232.0 C1767.3 1232.3 1796.4 1232.0 1826.7 1232.0 C1857.0 1232.0 1881.7 1232.2 1919.4 1232.3 C1957.1 1232.3 2024.6 1232.7 2052.7 1232.3 C2080.8 1231.9 2074.6 1230.0 2088.0 1230.0 C2101.4 1230.0 2118.1 1232.1 2133.0 1232.0 C2147.9 1231.9 2161.2 1230.2 2177.5 1229.2 C2193.8 1228.2 2214.7 1226.6 2231.0 1225.7 C2247.3 1224.8 2263.7 1223.9 2275.6 1223.9 C2287.5 1223.9 2287.7 1223.3 2302.4 1225.7 C2317.1 1228.1 2345.7 1239.2 2364.0 1238.5 C2382.3 1237.8 2396.9 1223.7 2412.4 1221.7 C2427.9 1219.7 2442.7 1226.8 2457.0 1226.6 C2471.3 1226.4 2481.7 1220.1 2498.0 1220.7 C2514.3 1221.3 2535.1 1228.2 2555.0 1230.1 C2574.9 1232.0 2592.2 1232.0 2617.5 1232.0 C2642.8 1232.0 2676.4 1230.7 2706.7 1230.0 C2737.0 1229.3 2770.7 1228.5 2799.4 1227.8 C2828.1 1227.1 2850.9 1226.5 2879.0 1225.7 C2907.1 1224.9 2938.2 1223.7 2968.0 1223.0 C2997.8 1222.3 3036.7 1221.7 3057.5 1221.7 C3078.3 1221.7 3081.1 1221.8 3093.0 1223.0 C3104.9 1224.2 3117.7 1227.4 3129.0 1229.2 C3140.3 1231.0 3152.2 1233.4 3161.0 1233.7 C3169.8 1234.0 3174.7 1232.2 3182.0 1231.0 C3189.3 1229.8 3200.9 1227.3 3204.7 1226.6" fill="none" stroke="#f0953a" stroke-width="3.5" stroke-linecap="round" stroke-linejoin="round"/>
<path d="M2788 1072 L2786 1072 Q2784.5 1072 2784.5 1073.5 L2784.5 1089.5 Q2784.5 1091 2786 1091 L2805 1091 Q2806.5 1091 2806.5 1089.5 L2806.5 1073.5 Q2806.5 1072 2805 1072 L2803 1072" fill="none" stroke="#8c8f98" stroke-width="2"/>
<path d="M2795.5 1080 L2795.5 1065 M2790.5 1069.5 L2795.5 1064.5 L2800.5 1069.5" fill="none" stroke="#8c8f98" stroke-width="2"/>
</svg>
<div style="position:absolute;left:3187.0px;top:695.4px;font-size:22px;line-height:22px;color:#b3b5bd;font-weight:400;font-family:'Liberation Sans', sans-serif;white-space:nowrap;-webkit-text-stroke:0.3px currentColor;">100</div>
<div style="position:absolute;left:3187.0px;top:746.4px;font-size:22px;line-height:22px;color:#b3b5bd;font-weight:400;font-family:'Liberation Sans', sans-serif;white-space:nowrap;-webkit-text-stroke:0.3px currentColor;">75</div>
<div style="position:absolute;left:3187.0px;top:797.4px;font-size:22px;line-height:22px;color:#b3b5bd;font-weight:400;font-family:'Liberation Sans', sans-serif;white-space:nowrap;-webkit-text-stroke:0.3px currentColor;">50</div>
<div style="position:absolute;left:3187.0px;top:848.4px;font-size:22px;line-height:22px;color:#b3b5bd;font-weight:400;font-family:'Liberation Sans', sans-serif;white-space:nowrap;-webkit-text-stroke:0.3px currentColor;">25</div>
<div style="position:absolute;left:3187.0px;top:899.4px;font-size:22px;line-height:22px;color:#b3b5bd;font-weight:400;font-family:'Liberation Sans', sans-serif;white-space:nowrap;-webkit-text-stroke:0.3px currentColor;">0</div>
<div style="position:absolute;left:545.0px;top:920.9px;font-size:22px;line-height:22px;color:#b3b5bd;font-weight:400;font-family:'Liberation Sans', sans-serif;white-space:nowrap;-webkit-text-stroke:0.3px currentColor;">0</div>
<div style="position:absolute;left:1425.6px;top:920.9px;font-size:22px;line-height:22px;color:#b3b5bd;font-weight:400;font-family:'Liberation Sans', sans-serif;white-space:nowrap;-webkit-text-stroke:0.3px currentColor;">20</div>
<div style="position:absolute;left:2306.2px;top:920.9px;font-size:22px;line-height:22px;color:#b3b5bd;font-weight:400;font-family:'Liberation Sans', sans-serif;white-space:nowrap;-webkit-text-stroke:0.3px currentColor;">40</div>
<div style="position:absolute;right:2811.5px;top:1137.4px;font-size:22px;line-height:22px;color:#a2a4ac;font-weight:400;font-family:'Liberation Sans', sans-serif;white-space:nowrap;-webkit-text-stroke:0.3px currentColor;">100</div>
<div style="position:absolute;right:2811.5px;top:1203.4px;font-size:22px;line-height:22px;color:#a2a4ac;font-weight:400;font-family:'Liberation Sans', sans-serif;white-space:nowrap;-webkit-text-stroke:0.3px currentColor;">75</div>
<div style="position:absolute;right:2811.5px;top:1269.4px;font-size:22px;line-height:22px;color:#a2a4ac;font-weight:400;font-family:'Liberation Sans', sans-serif;white-space:nowrap;-webkit-text-stroke:0.3px currentColor;">50</div>
<div style="position:absolute;right:2811.5px;top:1335.4px;font-size:22px;line-height:22px;color:#a2a4ac;font-weight:400;font-family:'Liberation Sans', sans-serif;white-space:nowrap;-webkit-text-stroke:0.3px currentColor;">25</div>
<div style="position:absolute;right:2811.5px;top:1401.4px;font-size:22px;line-height:22px;color:#a2a4ac;font-weight:400;font-family:'Liberation Sans', sans-serif;white-space:nowrap;-webkit-text-stroke:0.3px currentColor;">0</div>
<div style="position:absolute;left:990.5px;top:1423.3px;font-size:22.5px;line-height:22.5px;color:#a2a4ac;font-weight:400;font-family:'Liberation Sans', sans-serif;white-space:nowrap;-webkit-text-stroke:0.3px currentColor;">9:41&#8201;PM</div>
<div style="position:absolute;left:1430.9px;top:1423.3px;font-size:22.5px;line-height:22.5px;color:#a2a4ac;font-weight:400;font-family:'Liberation Sans', sans-serif;white-space:nowrap;-webkit-text-stroke:0.3px currentColor;">9:51&#8201;PM</div>
<div style="position:absolute;left:1871.1px;top:1423.3px;font-size:22.5px;line-height:22.5px;color:#a2a4ac;font-weight:400;font-family:'Liberation Sans', sans-serif;white-space:nowrap;-webkit-text-stroke:0.3px currentColor;">10:01&#8201;PM</div>
<div style="position:absolute;left:2311.5px;top:1423.3px;font-size:22.5px;line-height:22.5px;color:#a2a4ac;font-weight:400;font-family:'Liberation Sans', sans-serif;white-space:nowrap;-webkit-text-stroke:0.3px currentColor;">10:11&#8201;PM</div>
<div style="position:absolute;left:2751.9px;top:1423.3px;font-size:22.5px;line-height:22.5px;color:#a2a4ac;font-weight:400;font-family:'Liberation Sans', sans-serif;white-space:nowrap;-webkit-text-stroke:0.3px currentColor;">10:21&#8201;PM</div>
<div style="position:absolute;left:3192.1px;top:1423.3px;font-size:22.5px;line-height:22.5px;color:#a2a4ac;font-weight:400;font-family:'Liberation Sans', sans-serif;white-space:nowrap;-webkit-text-stroke:0.3px currentColor;">1...</div>
<div style="position:absolute;left:537.0px;top:1063.4px;font-size:27px;line-height:27px;color:#e7e8ed;font-weight:700;font-family:'Liberation Sans', sans-serif;white-space:nowrap;">History</div>
<div style="position:absolute;left:2827.0px;top:1032.0px;font-size:26px;line-height:26px;color:#dfe0e5;font-weight:400;font-family:'Liberation Sans', sans-serif;white-space:nowrap;-webkit-text-stroke:0.4px currentColor;">Time</div>
<div style="position:absolute;left:2827.0px;top:1063.6px;font-size:26px;line-height:26px;color:#dfe0e5;font-weight:400;font-family:'Liberation Sans', sans-serif;white-space:nowrap;-webkit-text-stroke:0.4px currentColor;">Rang</div>
<div style="position:absolute;left:2827.0px;top:1095.2px;font-size:26px;line-height:26px;color:#dfe0e5;font-weight:400;font-family:'Liberation Sans', sans-serif;white-space:nowrap;-webkit-text-stroke:0.4px currentColor;">e</div>
<div style="position:absolute;left:2904px;top:1052px;width:322px;height:48px;border-radius:15px;background:#2c2f3a;"></div>
<div style="position:absolute;left:2904px;top:1052px;width:70px;height:48px;border-radius:15px;background:#3478f6;"></div>
<div style="position:absolute;left:3063px;top:1062px;width:2px;height:26px;background:#3c3f4a;"></div>
<div style="position:absolute;left:3135px;top:1062px;width:2px;height:26px;background:#3c3f4a;"></div>
<div style="position:absolute;left:2439.0px;width:1000px;text-align:center;top:1064.0px;font-size:26px;line-height:26px;color:#ffffff;font-weight:400;font-family:'Liberation Sans', sans-serif;white-space:nowrap;-webkit-text-stroke:0.4px currentColor;">1h</div>
<div style="position:absolute;left:2519.5px;width:1000px;text-align:center;top:1064.0px;font-size:26px;line-height:26px;color:#e3e4e9;font-weight:400;font-family:'Liberation Sans', sans-serif;white-space:nowrap;-webkit-text-stroke:0.4px currentColor;">24h</div>
<div style="position:absolute;left:2599.0px;width:1000px;text-align:center;top:1064.0px;font-size:26px;line-height:26px;color:#e3e4e9;font-weight:400;font-family:'Liberation Sans', sans-serif;white-space:nowrap;-webkit-text-stroke:0.4px currentColor;">7d</div>
<div style="position:absolute;left:2680.6px;width:1000px;text-align:center;top:1064.0px;font-size:26px;line-height:26px;color:#e3e4e9;font-weight:400;font-family:'Liberation Sans', sans-serif;white-space:nowrap;-webkit-text-stroke:0.4px currentColor;">30d</div>
</body></html>
